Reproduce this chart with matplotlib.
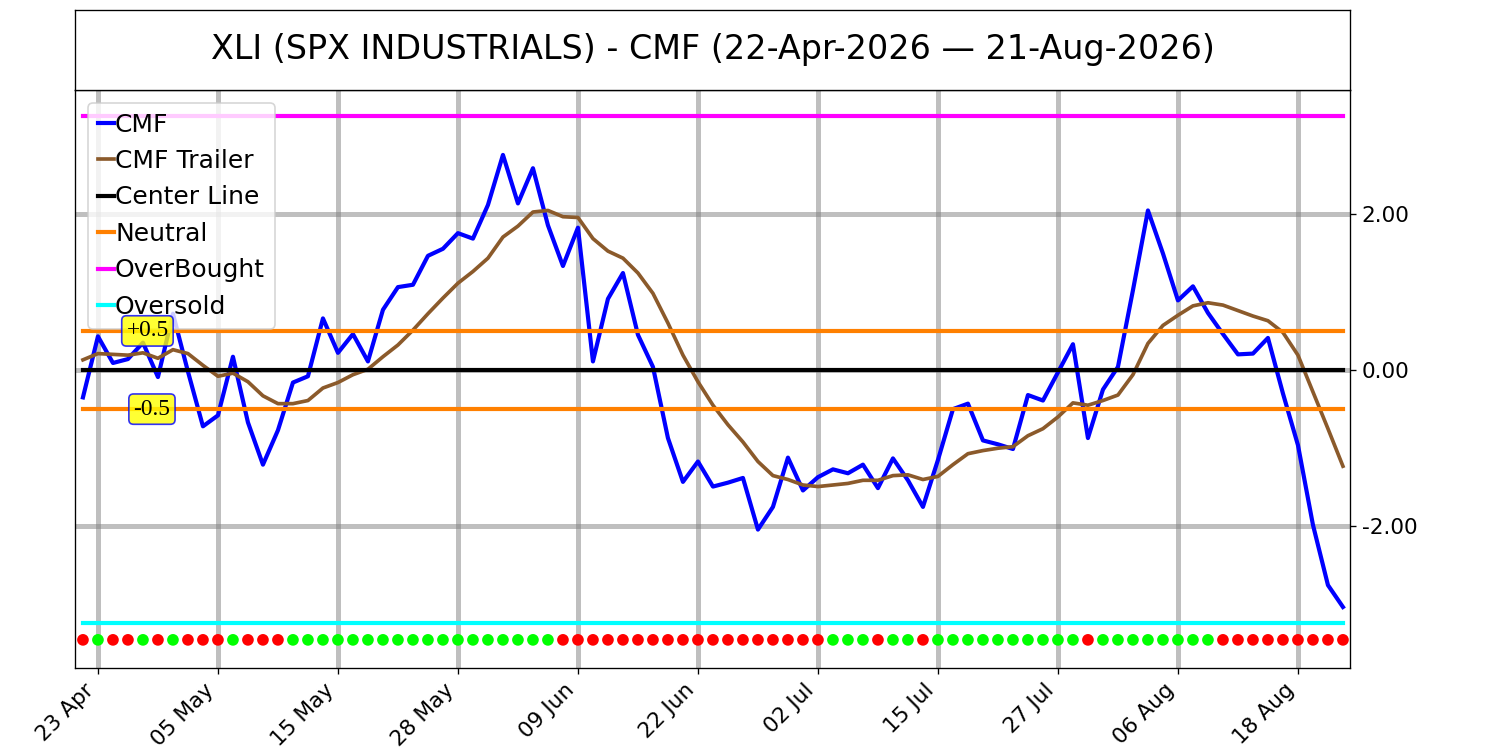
import numpy as np
import pandas as pd
import matplotlib
matplotlib.use("Agg")
import matplotlib.pyplot as plt

title = "XLI (SPX INDUSTRIALS) - CMF (22-Apr-2026 \u2014 21-Aug-2026)"

# trading days 22-Apr-2026 .. 21-Aug-2026 (US market holidays removed)
holidays = ["2026-05-25", "2026-06-19", "2026-07-03"]
dates = pd.bdate_range("2026-04-22", "2026-08-21")
dates = dates[~dates.isin(pd.to_datetime(holidays))]

cmf = [
    -0.35, 0.43, 0.09, 0.14, 0.35, -0.09, 0.72, -0.02, -0.72, -0.58,
    0.17, -0.67, -1.21, -0.77, -0.16, -0.08, 0.66, 0.22, 0.46, 0.11,
    0.77, 1.06, 1.09, 1.46, 1.55, 1.75, 1.68, 2.11, 2.75, 2.13,
    2.58, 1.85, 1.33, 1.82, 0.11, 0.91, 1.24, 0.45, 0.04, -0.87,
    -1.43, -1.17, -1.49, -1.44, -1.38, -2.04, -1.75, -1.12, -1.54, -1.37,
    -1.27, -1.32, -1.21, -1.51, -1.13, -1.41, -1.75, -1.15, -0.50, -0.43,
    -0.90, -0.95, -1.01, -0.32, -0.39, -0.03, 0.33, -0.87, -0.25, 0.04,
    1.02, 2.04, 1.49, 0.89, 1.07, 0.73, 0.46, 0.20, 0.21, 0.41,
    -0.30, -0.96, -1.98, -2.75, -3.03,
]

trailer = [
    0.13, 0.21, 0.20, 0.19, 0.22, 0.15, 0.26, 0.21, 0.06, -0.08,
    -0.04, -0.15, -0.33, -0.43, -0.43, -0.39, -0.23, -0.16, -0.06, 0.01,
    0.17, 0.32, 0.51, 0.72, 0.92, 1.11, 1.26, 1.43, 1.70, 1.84,
    2.02, 2.04, 1.96, 1.95, 1.68, 1.52, 1.43, 1.24, 0.98, 0.60,
    0.19, -0.15, -0.45, -0.70, -0.92, -1.17, -1.35, -1.40, -1.47, -1.49,
    -1.47, -1.45, -1.41, -1.41, -1.35, -1.34, -1.40, -1.36, -1.21, -1.07,
    -1.03, -1.00, -0.98, -0.84, -0.75, -0.60, -0.42, -0.45, -0.39, -0.32,
    -0.06, 0.34, 0.57, 0.70, 0.82, 0.86, 0.83, 0.76, 0.69, 0.63,
    0.48, 0.19, -0.28, -0.75, -1.23,
]

# signal dots: G = cmf above trailer, R = below
signal = "RGRRGRGRRRGRRRG" + "G" * 17 + "R" * 18 + "GGGRGGR" + "G" * 10 + "R" + "G" * 8 + "R" * 9

center = 0.0
neutral = 0.5
overbought = 3.25
oversold = -3.23
dot_level = -3.45

x = np.arange(len(cmf))
tick_idx = list(range(1, len(cmf), 8))
tick_labels = [dates[i].strftime("%d %b") for i in tick_idx]

fig = plt.figure(figsize=(12.5, 6.25), dpi=120)
ax = fig.add_axes([0.05, 0.1093, 0.85, 0.7707])
tax = fig.add_axes([0.05, 0.88, 0.85, 0.1067])
tax.set_xticks([])
tax.set_yticks([])
tax.text(0.5, 0.5, title, ha="center", va="center", fontsize=20, transform=tax.transAxes)

ax.plot(x, cmf, color="blue", lw=2.5, label="CMF")
ax.plot(x, trailer, color="#8B5A2B", lw=2.2, label="CMF Trailer")
ax.plot(x, np.full(len(x), center), color="black", lw=2.5, label="Center Line")
ax.plot(x, np.full(len(x), neutral), color="#FF8000", lw=2.5, label="Neutral")
ax.plot(x, np.full(len(x), -neutral), color="#FF8000", lw=2.5)
ax.plot(x, np.full(len(x), overbought), color="magenta", lw=2.5, label="OverBought")
ax.plot(x, np.full(len(x), oversold), color="cyan", lw=2.5, label="Oversold")

dot_colors = ["lime" if s == "G" else "red" for s in signal]
ax.scatter(x, np.full(len(x), dot_level), c=dot_colors, s=36, zorder=3)

box = dict(boxstyle="round,pad=0.2", fc="yellow", ec="blue", alpha=0.8)
ax.text(4.3, neutral, "+0.5", ha="center", va="center", fontsize=14,
        family="Liberation Serif", bbox=box, zorder=6)
ax.text(4.6, -neutral, "-0.5", ha="center", va="center", fontsize=14,
        family="Liberation Serif", bbox=box, zorder=6)

ax.set_xlim(-0.53, 84.47)
ax.set_ylim(-3.81, 3.58)
ax.set_xticks(tick_idx)
ax.set_xticklabels(tick_labels, rotation=45, ha="right", fontsize=13)
ax.yaxis.tick_right()
ax.set_yticks([-2, 0, 2])
ax.set_yticklabels(["-2.00", "0.00", "2.00"], fontsize=13)
ax.grid(True, color="gray", alpha=0.5, lw=3)
ax.set_axisbelow(True)

ax.legend(loc="upper left", fontsize=15, handlelength=0.65, handletextpad=0.05)

fig.savefig("out.png", dpi=120)
